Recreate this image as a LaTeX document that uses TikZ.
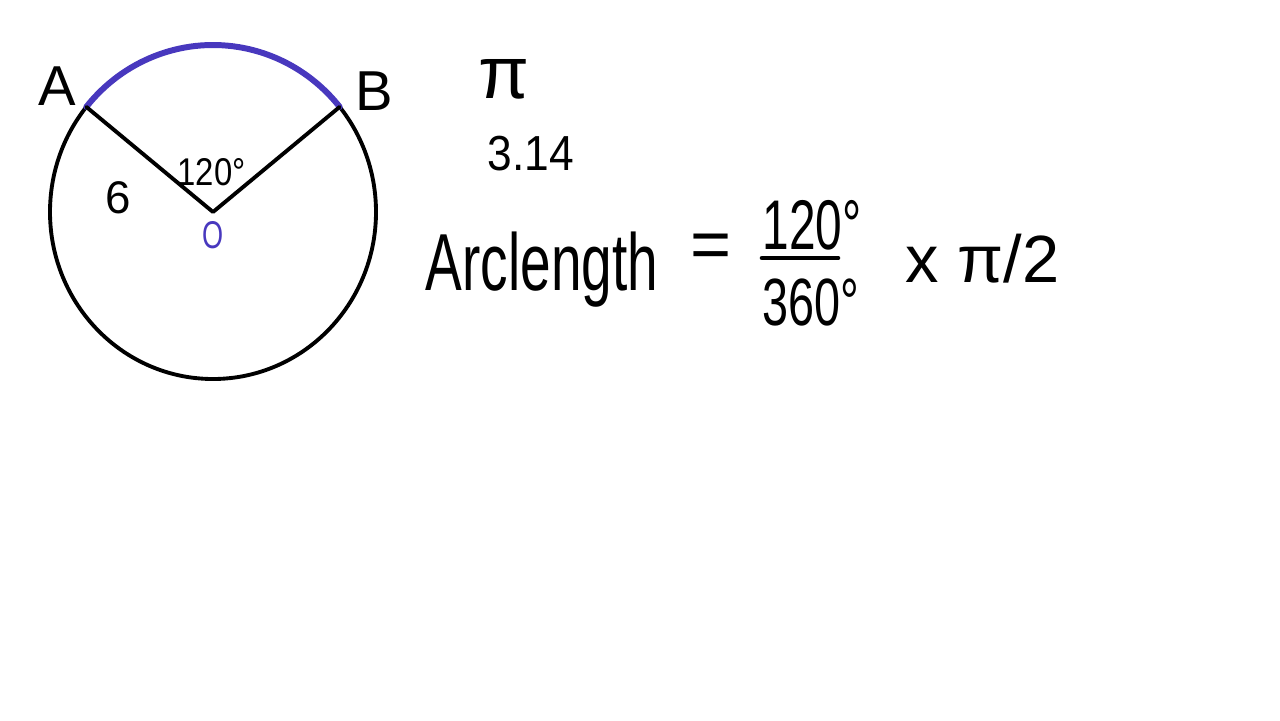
\documentclass[tikz,border=0pt]{standalone}
\usepackage{fontspec}
\setmainfont{Liberation Sans}
\usetikzlibrary{calc}
\definecolor{penblue}{RGB}{72,56,190}

\begin{document}
\begin{tikzpicture}[x=0.01cm,y=0.01cm,
    pen/.style={line width=1.1pt,line cap=round,line join=round},
    bluepen/.style={pen,line width=1.7pt,penblue},
    hand/.style={inner sep=0pt,anchor=base west,font=\fontsize{#1}{#1}\selectfont}]
  \useasboundingbox (0,0) rectangle (1280,720);
  % circle with centre O
  \coordinate (O) at (213,508);
  \coordinate (A) at ($(O)+(141:163 and 167)$);
  \coordinate (B) at ($(O)+(39:163 and 167)$);
  \draw[pen] (O) ellipse [x radius=163, y radius=167];
  \draw[bluepen] (A) arc [start angle=141, end angle=39, x radius=163, y radius=167];
  \draw[pen] (A) -- (O) -- (B);
  \node[hand=16pt] (la) at (38,615) {A};
  \node[hand=16pt] (lb) at (355,610) {B};
  \node[hand=13pt] (six) at (105,507) {6};
  \node[hand=11pt] (ang) at (177,535) {\scalebox{0.85}[1]{120°}};
  \node[hand=11pt,penblue] (lo) at (202,472) {\scalebox{0.7}[1]{O}};
  % pi
  \node[hand=21pt] (pi) at (478,622) {π};
  \node[hand=14pt] (val) at (487,550) {\scalebox{0.9}[1]{3.14}};
  % formula
  \node[hand=23pt] (arc) at (425,430) {\scalebox{0.68}[1]{Arclength}};
  \node[hand=20pt] (eq) at (690,452) {=};
  \node[hand=20pt] (num) at (762,471) {\scalebox{0.68}[1]{120°}};
  \node[hand=19pt] (den) at (762,395) {\scalebox{0.7}[1]{360°}};
  \coordinate (barl) at (762,462);
  \coordinate (barr) at (838,462);
  \draw[pen,line width=1.3pt] (barl) -- (barr);
  \node[hand=19pt] (mul) at (905,438) {x π/2};
\end{tikzpicture}
\end{document}
